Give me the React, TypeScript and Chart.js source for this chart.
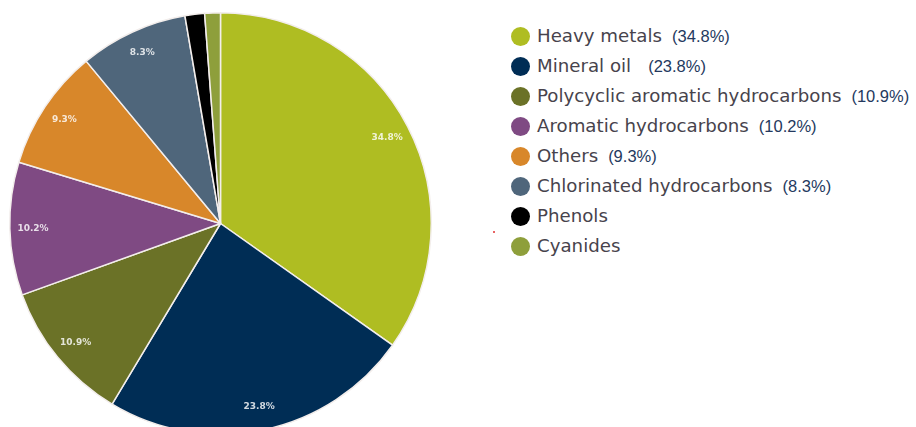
import React, { useEffect, useRef } from "react";
import { Chart, registerables } from "chart.js";

Chart.register(...registerables);

const categories = [
  "Heavy metals",
  "Mineral oil",
  "Polycyclic aromatic hydrocarbons",
  "Aromatic hydrocarbons",
  "Others",
  "Chlorinated hydrocarbons",
  "Phenols",
  "Cyanides",
];
const shares = [34.8, 23.8, 10.9, 10.2, 9.3, 8.3, 1.5, 1.2];
const legendPercents = ["(34.8%)", "(23.8%)", "(10.9%)", "(10.2%)", "(9.3%)", "(8.3%)", "", ""];
const sliceLabels = ["34.8%", "23.8%", "10.9%", "10.2%", "9.3%", "8.3%", "", ""];
const colors = ["#afbd22", "#002d55", "#6b7227", "#7f4a83", "#d8872a", "#4f667b", "#000000", "#8e9f3b"];

const sliceLabelPlugin = {
  id: "sliceLabels",
  afterDatasetsDraw(chart: any) {
    const ctx = chart.ctx;
    const meta = chart.getDatasetMeta(0);
    ctx.save();
    ctx.font = "bold 9px 'DejaVu Sans'";
    ctx.fillStyle = "rgba(255,255,255,0.82)";
    ctx.textAlign = "center";
    ctx.textBaseline = "middle";
    meta.data.forEach((arc: any, i: number) => {
      const text = sliceLabels[i];
      if (!text) return;
      const p = arc.getProps(["x", "y", "startAngle", "endAngle", "outerRadius"], true);
      const mid = (p.startAngle + p.endAngle) / 2;
      const r = p.outerRadius * 0.89;
      ctx.fillText(text, p.x + Math.cos(mid) * r, p.y + Math.sin(mid) * r);
    });
    ctx.restore();
  },
};

export default function App() {
  const canvasRef = useRef<HTMLCanvasElement | null>(null);

  useEffect(() => {
    if (!canvasRef.current) return;
    const chart = new Chart(canvasRef.current, {
      type: "pie",
      data: {
        labels: categories,
        datasets: [
          {
            data: shares,
            backgroundColor: colors,
            borderColor: "#f3eeec",
            borderWidth: 1.5,
            hoverOffset: 0,
            offset: 0,
          },
        ],
      },
      options: {
        responsive: false,
        animation: false,
        events: [],
        layout: { padding: { left: 9, right: 10, top: 12, bottom: 11 } },
        plugins: {
          legend: { display: false },
          tooltip: { enabled: false },
        },
      },
      plugins: [sliceLabelPlugin],
    });
    return () => chart.destroy();
  }, []);

  return (
    <div
      style={{
        position: "absolute",
        left: 0,
        top: 0,
        width: 916,
        height: 427,
        overflow: "hidden",
        background: "#ffffff",
      }}
    >
      <canvas
        ref={canvasRef}
        width={442}
        height={446}
        style={{ position: "absolute", left: 0, top: 0, display: "block" }}
      />
      {categories.map((name, i) => {
        const cy = 36 + 30 * i;
        return (
          <div key={name}>
            <div
              style={{
                position: "absolute",
                left: 511,
                top: cy - 9,
                width: 19,
                height: 19,
                borderRadius: "50%",
                background: colors[i],
              }}
            />
            <div
              style={{
                position: "absolute",
                left: 537,
                top: cy - 12,
                height: 24,
                lineHeight: "24px",
                whiteSpace: "nowrap",
              }}
            >
              <span style={{ fontFamily: "'DejaVu Sans'", fontSize: 18.2, color: "#47434c" }}>{name}</span>
              {legendPercents[i] ? (
                <span
                  style={{
                    fontFamily: "'Liberation Sans'",
                    fontSize: 16.5,
                    color: "#24395e",
                    marginLeft: i === 1 ? 17 : 10,
                  }}
                >
                  {legendPercents[i]}
                </span>
              ) : null}
            </div>
          </div>
        );
      })}
      <div
        style={{
          position: "absolute",
          left: 493,
          top: 231,
          width: 2,
          height: 2,
          background: "#e03030",
          borderRadius: "50%",
        }}
      />
    </div>
  );
}
